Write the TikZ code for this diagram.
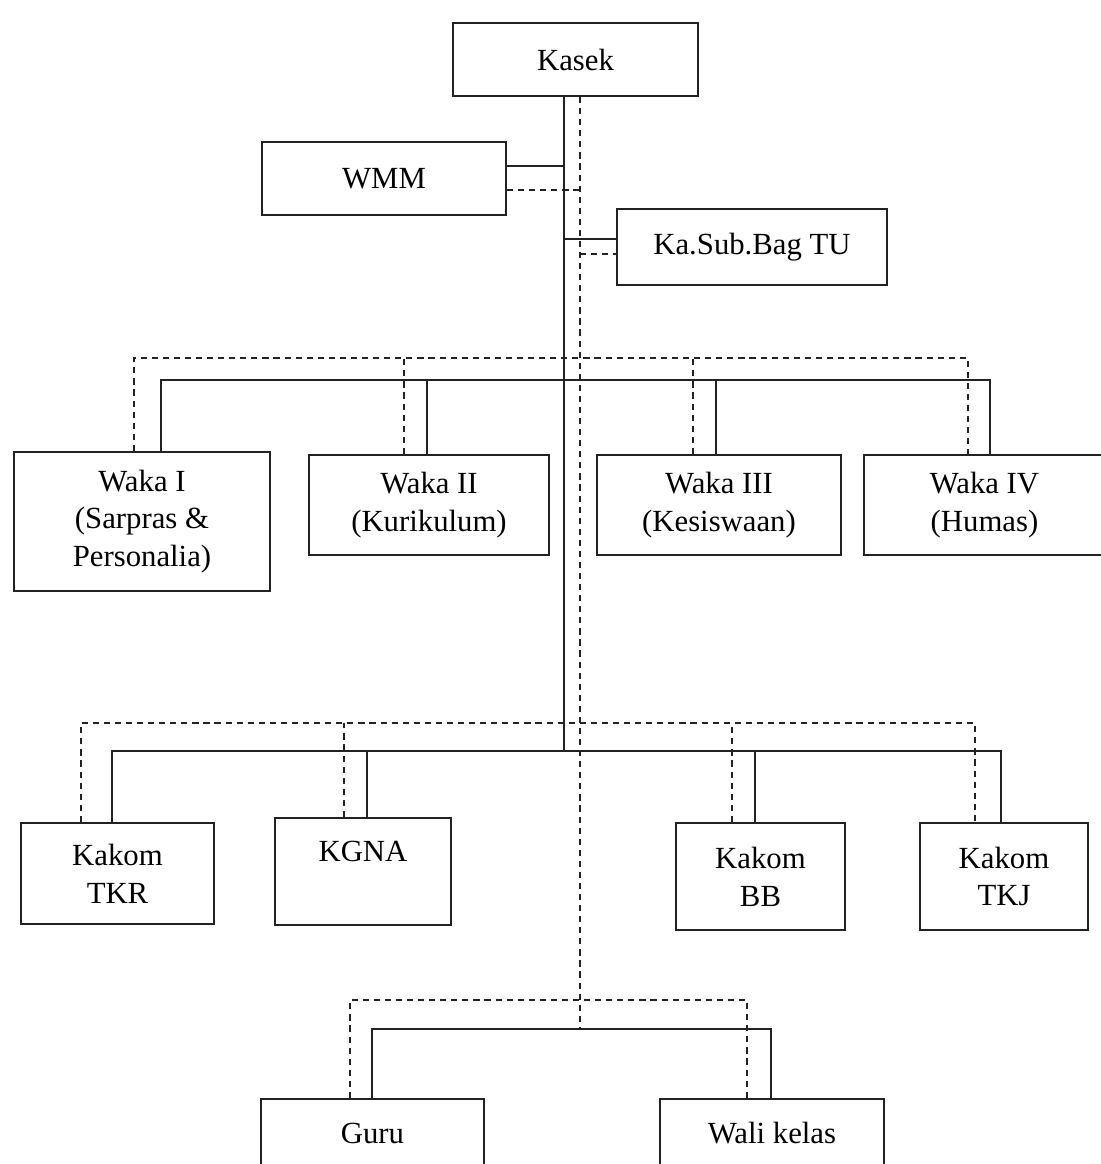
\documentclass[tikz,border=0pt]{standalone}
\usepackage{fontspec}
\setmainfont{Liberation Serif}
\usepackage{xcolor}
\definecolor{orgink}{HTML}{222222}
\newcommand{\orgfont}{\fontsize{17.5}{21.5}\selectfont}
\tikzset{
  orgbox/.style={
    draw=orgink,
    line width=1.2pt,
    align=center,
    font=\orgfont,
    inner sep=2pt
  },
  topbox/.style={
    orgbox,
    anchor=north,
    inner ysep=0pt
  },
  solidlink/.style={
    draw=orgink,
    line width=1.3pt
  },
  dashlink/.style={
    draw=orgink,
    line width=1.1pt,
    dash pattern=on 3.5pt off 2.8pt
  }
}

\begin{document}
\begin{tikzpicture}[x=0.02cm, y=-0.02cm]
\useasboundingbox (0,0) rectangle (1101,1164);
\clip (0,0) rectangle (1101,1164);
\node[orgbox, minimum width=4.9cm, minimum height=1.46cm] (kasek) at (575.5,59.5) {Kasek};
\node[orgbox, minimum width=4.88cm, minimum height=1.46cm] (wmm) at (384,178.5) {WMM};
\node[orgbox, minimum width=5.4cm, minimum height=1.52cm] (kasub) at (752,247) {Ka.Sub.Bag TU};
\node[orgbox, minimum width=5.12cm, minimum height=2.78cm] (wakaI) at (142,521.5) {Waka I\\(Sarpras \&\\Personalia)};
\node[orgbox, minimum width=4.8cm, minimum height=2cm] (wakaII) at (429,505) {Waka II\\(Kurikulum)};
\node[orgbox, minimum width=4.88cm, minimum height=2cm] (wakaIII) at (719,505) {Waka III\\(Kesiswaan)};
\node[orgbox, minimum width=4.82cm, minimum height=2cm] (wakaIV) at (984.5,505) {Waka IV\\(Humas)};
\node[orgbox, minimum width=3.86cm, minimum height=2.02cm] (tkr) at (117.5,873.5) {Kakom\\TKR};
\node[topbox, minimum width=3.52cm, text height=0.86cm, text depth=1.28cm] (kgna) at (363,817) {KGNA};
\node[orgbox, minimum width=3.38cm, minimum height=2.14cm] (bb) at (760.5,876.5) {Kakom\\BB};
\node[orgbox, minimum width=3.36cm, minimum height=2.14cm] (tkj) at (1004,876.5) {Kakom\\TKJ};
\node[topbox, minimum width=4.46cm, text height=0.88cm, text depth=1.3cm] (guru) at (372.5,1098) {Guru};
\node[topbox, minimum width=4.48cm, text height=0.88cm, text depth=1.3cm] (wali) at (772,1098) {Wali kelas};

\draw[solidlink] (kasek.south -| 564,0) -- (564,751);
\draw[dashlink] (kasek.south -| 580,0) -- (580,1029);
\draw[solidlink] (wmm.east |- 0,166) -- (564,166);
\draw[dashlink] (wmm.east |- 0,190) -- (580,190);
\draw[solidlink] (564,239) -- (kasub.west |- 0,239);
\draw[dashlink] (580,254) -- (kasub.west |- 0,254);

\draw[solidlink] (wakaI.north -| 161,0) |- (990,380) -- (wakaIV.north -| 990,0);
\draw[solidlink] (wakaII.north -| 427,0) -- (427,380);
\draw[solidlink] (wakaIII.north -| 716,0) -- (716,380);
\draw[dashlink] (wakaI.north -| 134,0) |- (968,358) -- (wakaIV.north -| 968,0);
\draw[dashlink] (wakaII.north -| 404,0) -- (404,358);
\draw[dashlink] (wakaIII.north -| 693,0) -- (693,358);

\draw[solidlink] (tkr.north -| 112,0) |- (1001,751) -- (tkj.north -| 1001,0);
\draw[solidlink] (kgna.north -| 367,0) -- (367,751);
\draw[solidlink] (bb.north -| 755,0) -- (755,751);
\draw[dashlink] (tkr.north -| 81,0) |- (975,723) -- (tkj.north -| 975,0);
\draw[dashlink] (kgna.north -| 344,0) -- (344,723);
\draw[dashlink] (bb.north -| 732,0) -- (732,723);

\draw[solidlink] (guru.north -| 372,0) |- (771,1029) -- (wali.north -| 771,0);
\draw[dashlink] (guru.north -| 350,0) |- (747,1000) -- (wali.north -| 747,0);
\end{tikzpicture}
\end{document}
